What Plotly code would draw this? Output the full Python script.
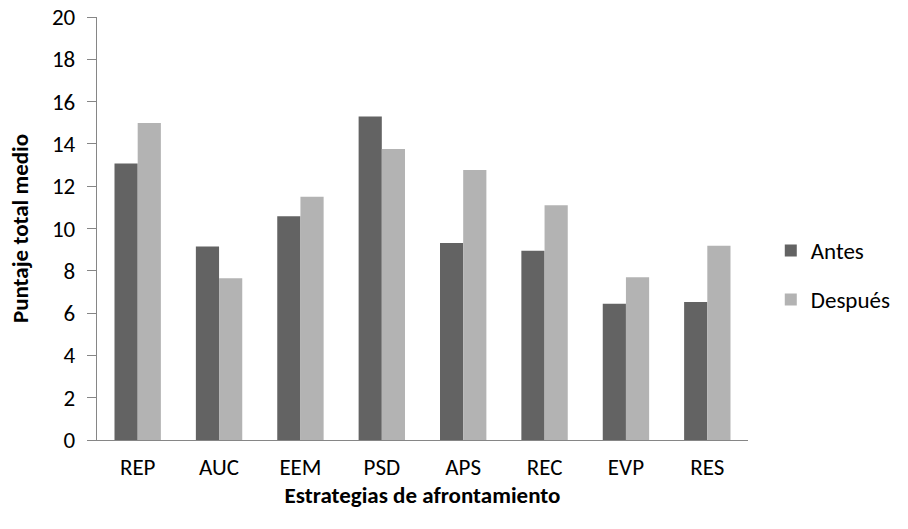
import plotly.graph_objects as go

# Estrategias de afrontamiento y puntajes medios
categorias = ["REP", "AUC", "EEM", "PSD", "APS", "REC", "EVP", "RES"]
antes = [13.07, 9.15, 10.58, 15.29, 9.31, 8.95, 6.44, 6.52]
despues = [14.99, 7.65, 11.50, 13.76, 12.77, 11.10, 7.69, 9.18]
ticks_y = [0, 2, 4, 6, 8, 10, 12, 14, 16, 18, 20]

FONT = "Carlito, Calibri, Lato, sans-serif"
SIZE = 23

fig = go.Figure()
fig.add_trace(go.Bar(
    x=categorias, y=antes, name="Antes",
    marker=dict(color="#636363", line=dict(width=0)),
    legendgroup="a",
))
fig.add_trace(go.Bar(
    x=categorias, y=despues, name="Después",
    marker=dict(color="#b3b3b3", line=dict(width=0)),
    legendgroup="d",
))

fig.update_layout(
    width=908, height=529,
    margin=dict(l=97, r=156, t=17, b=89),
    paper_bgcolor="white", plot_bgcolor="white",
    font=dict(family=FONT, size=SIZE, color="black"),
    barmode="group", bargap=0.43, bargroupgap=0,
    showlegend=True,
    legend=dict(
        x=1.035, y=0.39, xanchor="left", yanchor="middle",
        traceorder="grouped", tracegroupgap=16,
        font=dict(family=FONT, size=SIZE),
        itemwidth=30,
    ),
    xaxis=dict(
        automargin=False,
        showline=True, linecolor="#868686", linewidth=1.3,
        ticks="outside", ticklen=6, tickcolor="rgba(0,0,0,0)",
        showgrid=False, zeroline=False,
        title=dict(text="<b>Estrategias de afrontamiento</b>", standoff=4,
                   font=dict(family=FONT, size=SIZE)),
    ),
    yaxis=dict(
        automargin=False,
        range=[0, 20], tickvals=ticks_y,
        showline=True, linecolor="#868686", linewidth=1.3,
        ticks="outside", ticklen=9, tickcolor="#868686", tickwidth=1.3,
        ticklabelstandoff=7,
        showgrid=False, zeroline=False,
        title=dict(text="<b>Puntaje total medio</b>", standoff=16,
                   font=dict(family=FONT, size=SIZE)),
    ),
)

fig.write_html("out.html")
